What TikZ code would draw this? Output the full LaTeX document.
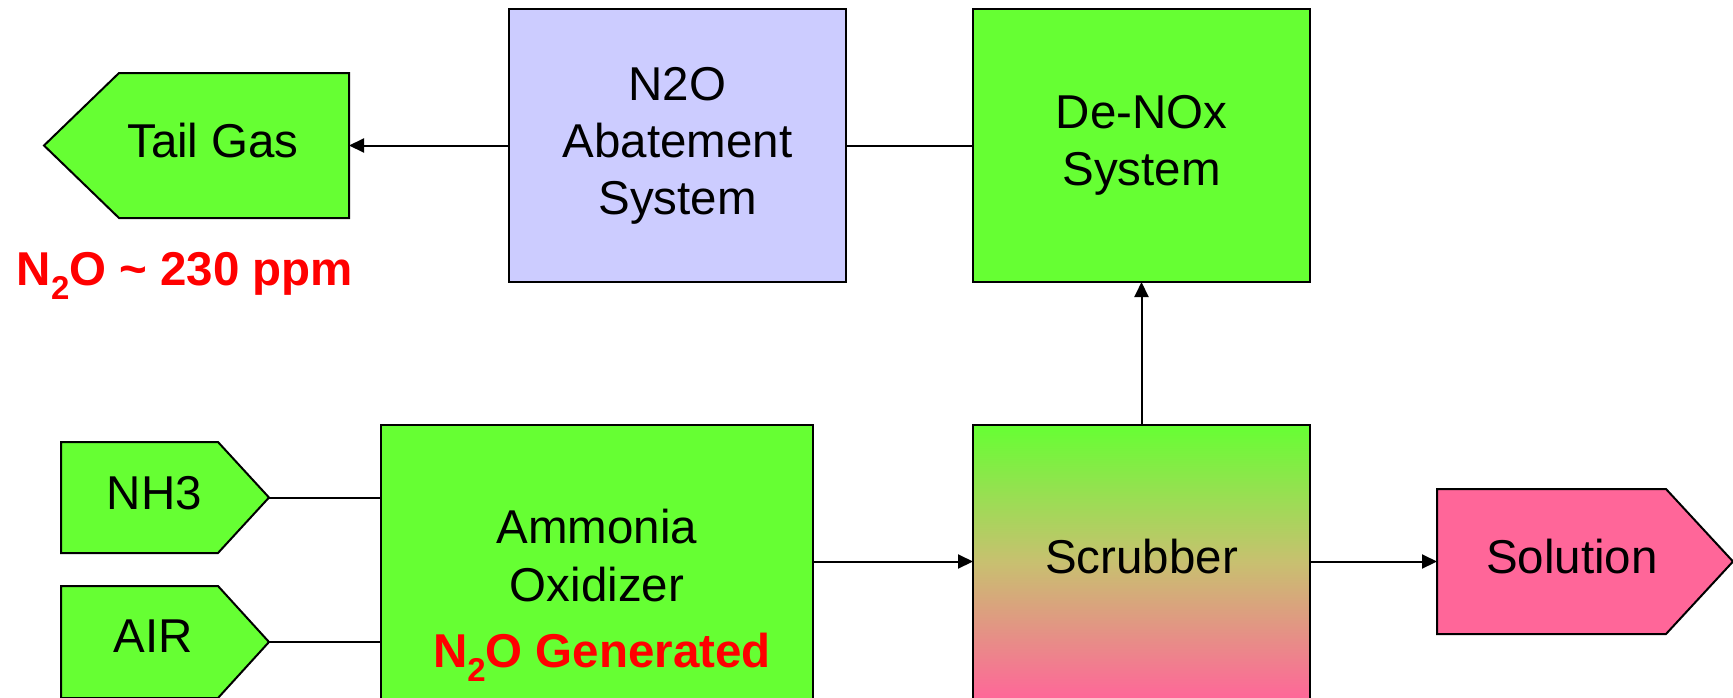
\documentclass[tikz,border=0pt]{standalone}
\usepackage{fontspec}
\setmainfont{Liberation Sans}
\usetikzlibrary{arrows.meta,calc}
\definecolor{grn}{HTML}{66FF33}
\definecolor{lav}{HTML}{CCCCFF}
\definecolor{pnk}{HTML}{FF6699}
\definecolor{tan}{HTML}{C8C070}
\definecolor{redtxt}{HTML}{FF0000}
\newcommand{\subtwo}{\raisebox{-0.3em}{\fontsize{33}{33}\selectfont 2}}
\pgfdeclarelayer{bg}
\pgfsetlayers{bg,main}
\begin{document}
\begin{tikzpicture}[x=1pt,y=-1pt,
  every node/.style={inner sep=0pt, outer sep=0pt},
  txt/.style={font=\fontsize{47.5}{57}\selectfont, align=center},
  redlbl/.style={font=\fontsize{47.5}{57}\selectfont\bfseries, text=redtxt},
  blk/.style={draw=black, line width=2pt},
  area/.style={draw=none},
  outline/.style={draw=black, line width=2pt, line join=miter},
  conn/.style={draw=black, line width=2pt},
  arr/.style={conn, -{Triangle[length=15pt,width=14pt]}}]
\useasboundingbox (0,0) rectangle (1733,697);
% flag shapes (rectangular part as named nodes)
\node[area, minimum width=230pt, minimum height=145pt] (tail) at (234,145.5) {};
\node[area, minimum width=157pt, minimum height=111pt] (nh3) at (139.5,497.5) {};
\node[area, minimum width=157pt, minimum height=112pt] (air) at (139.5,642) {};
\node[area, minimum width=229pt, minimum height=145pt] (sol) at (1551.5,561.5) {};
\coordinate (tailtip) at ($(tail.west)+(-75,0)$);
\coordinate (nh3tip) at ($(nh3.east)+(51,0)$);
\coordinate (airtip) at ($(air.east)+(51,0)$);
\coordinate (soltip) at ($(sol.east)+(67,0)$);
\begin{pgfonlayer}{bg}
\draw[outline, fill=grn] (tail.north east) -- (tail.north west) -- (tailtip) -- (tail.south west) -- (tail.south east) -- cycle;
\draw[outline, fill=grn] (nh3.north west) -- (nh3.north east) -- (nh3tip) -- (nh3.south east) -- (nh3.south west) -- cycle;
\draw[outline, fill=grn] (air.north west) -- (air.north east) -- (airtip) -- (air.south east) -- (air.south west) -- cycle;
\draw[outline, fill=pnk] (sol.north west) -- (sol.north east) -- (soltip) -- (sol.south east) -- (sol.south west) -- cycle;
\end{pgfonlayer}
% blocks
\node[blk, fill=lav, txt, minimum width=337pt, minimum height=273pt] (abate) at (677.5,145.5) {N2O\\Abatement\\System};
\node[blk, fill=grn, txt, minimum width=337pt, minimum height=273pt] (denox) at (1141.5,145.5) {De-NOx\\System};
\node[blk, fill=grn, minimum width=432pt, minimum height=274pt] (ox) at (597,562) {};
\node[blk, top color=grn, bottom color=pnk, middle color=tan, minimum width=337pt, minimum height=274pt] (sc) at (1141.5,562) {};
% texts
\node[txt, anchor=base] (tailtxt) at (213,157) {Tail Gas};
\node[redlbl, anchor=base] (ppm) at (185,285) {N\subtwo O \textasciitilde{} 230 ppm};
\node[txt, anchor=base] (nh3txt) at (154.5,509) {NH3};
\node[txt, anchor=base] (airtxt) at (153,652) {AIR};
\node[txt, anchor=base] (oxl1) at (597,543) {Ammonia};
\node[txt, anchor=base] (oxl2) at (597,601) {Oxidizer};
\node[redlbl, anchor=base] (oxl3) at (602,667) {N\subtwo O Generated};
\node[txt, anchor=base] (sctxt) at (1141.5,573) {Scrubber};
\node[txt, anchor=base] (soltxt) at (1572,573) {Solution};
% connectors
\draw[arr] (abate.west) -- (tail.east);
\draw[conn] (abate.east) -- (denox.west);
\draw[arr] (sc.north) -- (denox.south);
\draw[conn] (nh3tip) -- (nh3tip -| ox.west);
\draw[conn] (airtip) -- (airtip -| ox.west);
\draw[arr] (ox.east |- sol.west) -- (sc.west |- sol.west);
\draw[arr] (sc.east |- sol.west) -- (sol.west);
\end{tikzpicture}
\end{document}
